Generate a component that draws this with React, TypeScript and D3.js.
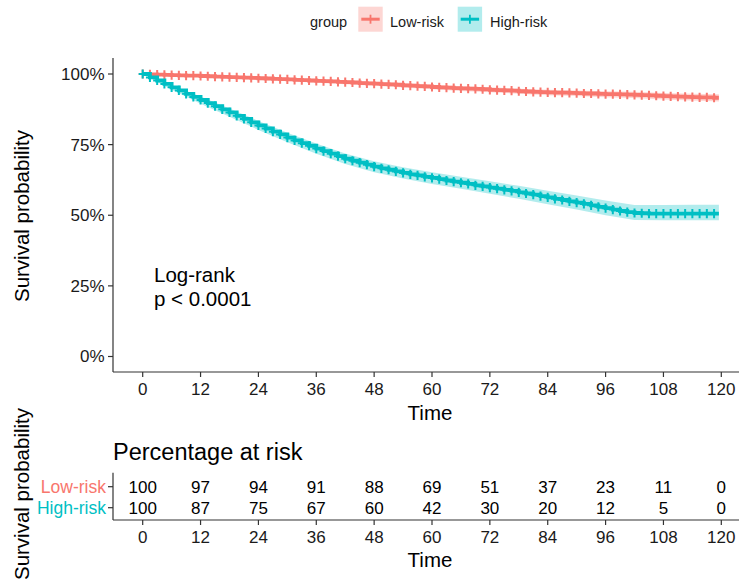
import React from "react";
import * as d3 from "d3";

const times = [
  0, 1.5, 3, 4.5, 6, 7.5, 9, 10.5, 12, 13.5,
  15, 16.5, 18, 19.5, 21, 22.5, 24, 25.5, 27, 28.5,
  30, 31.5, 33, 34.5, 36, 37.5, 39, 40.5, 42, 43.5,
  45, 46.5, 48, 49.5, 51, 52.5, 54, 55.5, 57, 58.5,
  60, 61.5, 63, 64.5, 66, 67.5, 69, 70.5, 72, 73.5,
  75, 76.5, 78, 79.5, 81, 82.5, 84, 85.5, 87, 88.5,
  90, 91.5, 93, 94.5, 96, 97.5, 99, 100.5, 102, 103.5,
  105, 106.5, 108, 109.5, 111, 112.5, 114, 115.5, 117, 118.5,
];
const lastTime = 119.5;

const lowSurv = [
  100, 99.9, 99.8, 99.7, 99.6, 99.5, 99.4, 99.4, 99.3, 99.2,
  99.1, 99.0, 98.9, 98.8, 98.7, 98.6, 98.5, 98.4, 98.3, 98.2,
  98.1, 97.9, 97.8, 97.7, 97.6, 97.5, 97.4, 97.2, 97.1, 97.0,
  96.8, 96.7, 96.6, 96.4, 96.3, 96.2, 96.0, 95.9, 95.7, 95.6,
  95.4, 95.3, 95.2, 95.0, 94.9, 94.8, 94.7, 94.6, 94.4, 94.3,
  94.2, 94.1, 93.9, 93.8, 93.7, 93.6, 93.5, 93.4, 93.4, 93.3,
  93.2, 93.1, 93.1, 93.0, 92.9, 92.9, 92.8, 92.7, 92.6, 92.5,
  92.4, 92.3, 92.2, 92.1, 92.0, 91.9, 91.8, 91.7, 91.7, 91.6,
];
const highSurv = [
  100, 98.8, 97.7, 96.5, 95.3, 94.2, 93.0, 91.9, 90.8, 89.7,
  88.6, 87.5, 86.4, 85.2, 84.1, 82.9, 81.8, 80.7, 79.6, 78.6,
  77.5, 76.5, 75.5, 74.6, 73.6, 72.7, 71.8, 70.9, 70.0, 69.3,
  68.6, 67.9, 67.2, 66.6, 66.1, 65.5, 65.0, 64.5, 64.1, 63.6,
  63.2, 62.8, 62.3, 61.9, 61.5, 61.1, 60.6, 60.2, 59.8, 59.4,
  59.0, 58.6, 58.1, 57.7, 57.3, 56.8, 56.3, 55.8, 55.4, 54.9,
  54.5, 54.0, 53.5, 53.0, 52.5, 52.0, 51.5, 51.1, 50.8, 50.7,
  50.6, 50.6, 50.6, 50.6, 50.6, 50.6, 50.6, 50.6, 50.6, 50.6,
];

const bandTimes = [0, 6, 12, 18, 24, 30, 36, 42, 48, 54, 60, 66, 72, 78, 84, 90, 96, 102, 108, 114, 119.5];
const lowUpper = [100, 99.9, 99.7, 99.4, 99.0, 98.7, 98.2, 97.8, 97.3, 96.8, 96.2, 95.7, 95.3, 94.8, 94.4, 94.2, 93.9, 93.7, 93.3, 93.0, 92.8];
const lowLower = [100, 99.3, 98.9, 98.4, 97.9, 97.5, 96.9, 96.4, 95.8, 95.2, 94.6, 94.0, 93.5, 93.0, 92.5, 92.2, 91.8, 91.5, 91.0, 90.6, 90.3];
const highUpper = [100, 96.1, 92.0, 87.8, 83.4, 79.2, 75.4, 71.9, 69.1, 67.0, 65.2, 63.6, 62.0, 60.4, 58.7, 57.0, 55.2, 53.6, 53.6, 53.7, 53.7];
const highLower = [100, 94.4, 89.5, 84.9, 80.2, 75.8, 71.8, 68.1, 65.2, 63.0, 61.1, 59.4, 57.6, 55.8, 53.9, 52.0, 50.0, 48.3, 48.2, 48.2, 48.2];

const groups = ["Low-risk", "High-risk"];
const colors = ["#F8766D", "#00BFC4"];
const xTicks = [0, 12, 24, 36, 48, 60, 72, 84, 96, 108, 120];
const yTicks = [0, 25, 50, 75, 100];
const yTickLabels = ["0%", "25%", "50%", "75%", "100%"];
const lowAtRisk = [100, 97, 94, 91, 88, 69, 51, 37, 23, 11, 0];
const highAtRisk = [100, 87, 75, 67, 60, 42, 30, 20, 12, 5, 0];

const FONT = "'Liberation Sans', Arial, sans-serif";

export default function App() {
  const W = 739;
  const H = 581;
  const x = d3.scaleLinear().domain([0, 120]).range([142.7, 721.3]);
  const y = d3.scaleLinear().domain([0, 100]).range([356.5, 74]);
  const panelLeft = 113;
  const panelTop = 58;
  const panelBottom = 372;

  const survSets = [lowSurv, highSurv];
  const bands = [
    { up: lowUpper, lo: lowLower },
    { up: highUpper, lo: highLower },
  ];

  const line = d3
    .line<[number, number]>()
    .x((d) => x(d[0]))
    .y((d) => y(d[1]))
    .curve(d3.curveStepAfter);

  const tableRows = [486.7, 507.7];
  const tableAxisY = 520;
  const tableTop = 472.7;
  const atRisk = [lowAtRisk, highAtRisk];

  return (
    <div style={{ position: "absolute", left: 0, top: 0 }}>
      <svg width={W} height={H} style={{ display: "block", background: "#fff" }} fontFamily={FONT}>
        {/* Legend */}
        <text x={310} y={21.7} dy="0.35em" fontSize={14.5} fill="#1a1a1a">group</text>
        {groups.map((g, i) => {
          const bx = i === 0 ? 358.3 : 457.7;
          const tx = i === 0 ? 390 : 490;
          const cy = 19.2;
          return (
            <g key={g}>
              <rect x={bx} y={6.7} width={24.4} height={25} fill={colors[i]} fillOpacity={0.3} />
              <line x1={bx + 3} x2={bx + 21.4} y1={cy} y2={cy} stroke={colors[i]} strokeWidth={3} />
              <line x1={bx + 12.2} x2={bx + 12.2} y1={cy - 4.5} y2={cy + 4.5} stroke={colors[i]} strokeWidth={1.8} />
              <text x={tx} y={21.7} dy="0.35em" fontSize={14.5} fill="#1a1a1a">{g}</text>
            </g>
          );
        })}

        {/* Bands */}
        {bands.map((b, gi) => {
          const a = d3
            .area<number>()
            .x((i) => x(bandTimes[i]))
            .y0((i) => y(b.lo[i]))
            .y1((i) => y(b.up[i]));
          return (
            <path key={"band" + gi} d={a(d3.range(bandTimes.length)) || ""} fill={colors[gi]} fillOpacity={0.3} stroke="none" />
          );
        })}

        {/* Curves and censor marks */}
        {survSets.map((s, gi) => {
          const pts: [number, number][] = times.map((t, i) => [t, s[i]]);
          pts.push([lastTime, s[s.length - 1]]);
          return (
            <g key={"curve" + gi}>
              <path d={line(pts) || ""} fill="none" stroke={colors[gi]} strokeWidth={3.8} />
              {times.map((t, i) => {
                const px = x(t);
                const py = y(s[i]);
                return (
                  <path
                    key={i}
                    d={`M${px - 4},${py}H${px + 4}M${px},${py - 4.6}V${py + 4.6}`}
                    stroke={colors[gi]}
                    strokeWidth={2}
                    fill="none"
                  />
                );
              })}
            </g>
          );
        })}

        {/* Main axes */}
        <line x1={panelLeft} x2={panelLeft} y1={panelTop} y2={panelBottom} stroke="#333" strokeWidth={1.2} />
        <line x1={panelLeft} x2={W} y1={panelBottom} y2={panelBottom} stroke="#333" strokeWidth={1.2} />
        {yTicks.map((v, i) => (
          <g key={"yt" + v}>
            <line x1={panelLeft - 5} x2={panelLeft} y1={y(v)} y2={y(v)} stroke="#333" strokeWidth={1.2} />
            <text x={104.5} y={y(v)} dy="0.35em" textAnchor="end" fontSize={17} fill="#1a1a1a">{yTickLabels[i]}</text>
          </g>
        ))}
        {xTicks.map((v) => (
          <g key={"xt" + v}>
            <line x1={x(v)} x2={x(v)} y1={panelBottom} y2={panelBottom + 5} stroke="#333" strokeWidth={1.2} />
            <text x={x(v)} y={389.3} dy="0.35em" textAnchor="middle" fontSize={17} fill="#1a1a1a">{v}</text>
          </g>
        ))}
        <text x={430} y={412.7} dy="0.35em" textAnchor="middle" fontSize={20.5} fill="#000">Time</text>
        <text transform="translate(22,216) rotate(-90)" textAnchor="middle" dy="0.35em" fontSize={20.5} fill="#000">Survival probability</text>

        {/* p-value */}
        <text x={154} y={282} fontSize={20.5} fill="#000">Log-rank</text>
        <text x={154} y={306} fontSize={20.5} fill="#000">p &lt; 0.0001</text>

        {/* Risk table */}
        <text x={113} y={459.5} fontSize={23.5} fill="#000">Percentage at risk</text>
        <line x1={panelLeft} x2={panelLeft} y1={tableTop} y2={tableAxisY} stroke="#333" strokeWidth={1.2} />
        <line x1={panelLeft} x2={W} y1={tableAxisY} y2={tableAxisY} stroke="#333" strokeWidth={1.2} />
        {groups.map((g, gi) => (
          <g key={"row" + g}>
            <line x1={panelLeft - 5} x2={panelLeft} y1={tableRows[gi]} y2={tableRows[gi]} stroke="#333" strokeWidth={1.2} />
            <text x={106} y={tableRows[gi]} dy="0.35em" textAnchor="end" fontSize={17.5} fill={colors[gi]}>{g}</text>
            {xTicks.map((t, i) => (
              <text key={t} x={x(t)} y={tableRows[gi]} dy="0.35em" textAnchor="middle" fontSize={17} fill="#000">{atRisk[gi][i]}</text>
            ))}
          </g>
        ))}
        {xTicks.map((v) => (
          <g key={"tt" + v}>
            <line x1={x(v)} x2={x(v)} y1={tableAxisY} y2={tableAxisY + 5} stroke="#333" strokeWidth={1.2} />
            <text x={x(v)} y={536.7} dy="0.35em" textAnchor="middle" fontSize={17} fill="#1a1a1a">{v}</text>
          </g>
        ))}
        <text x={430} y={560} dy="0.35em" textAnchor="middle" fontSize={20.5} fill="#000">Time</text>
        <text transform="translate(22,494) rotate(-90)" textAnchor="middle" dy="0.35em" fontSize={20.5} fill="#000">Survival probability</text>
      </svg>
    </div>
  );
}
